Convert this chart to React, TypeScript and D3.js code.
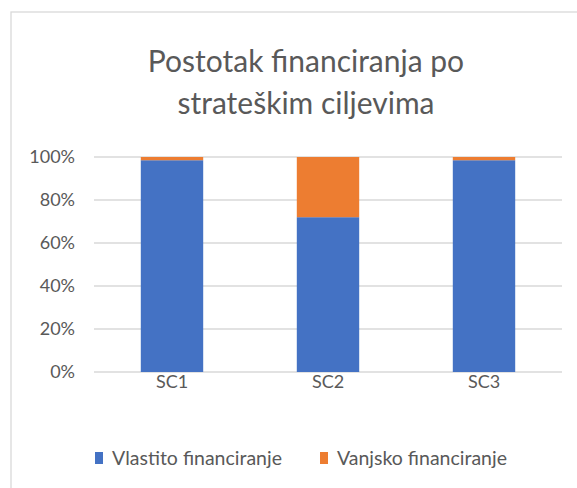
import React from "react";
import * as d3 from "d3";

const categories = ["SC1", "SC2", "SC3"];
const seriesNames = ["Vlastito financiranje", "Vanjsko financiranje"];
const vlastito = [98.5, 72, 98.5];
const vanjsko = [1.5, 28, 1.5];
const yTicks = [0, 20, 40, 60, 80, 100];
const colors = ["#4472C4", "#ED7D31"];
const titleLines = ["Postotak financiranja po", "strateškim ciljevima"];

const W = 577;
const H = 488;
const FONT = "Lato, 'Open Sans', sans-serif";
const TXT = "#595959";

export default function App() {
  const x = d3.scaleBand<string>().domain(categories).range([94, 562]).paddingInner(0.6).paddingOuter(0.3);
  const y = d3.scaleLinear().domain([0, 100]).range([372, 157]);
  const rows = categories.map((c, i) => ({ cat: c, v0: vlastito[i], v1: vanjsko[i] }));
  const stack = d3.stack<any>().keys(["v0", "v1"])(rows);
  const fmt = (v: number) => `${v}%`;

  return (
    <svg width={W} height={H} style={{ position: "absolute", left: 0, top: 0, background: "#fff" }}>
      <rect x={11} y={12} width={W} height={H} fill="#fff" stroke="#d9d9d9" strokeWidth={1.3} />
      {titleLines.map((t, i) => (
        <text key={i} x={306} y={72 + i * 42} textAnchor="middle" fontFamily={FONT} fontSize={30} fill={TXT}>
          {t}
        </text>
      ))}
      {yTicks.map((t) => (
        <g key={t}>
          <line x1={94} x2={562} y1={y(t)} y2={y(t)} stroke="#d9d9d9" strokeWidth={1.5} />
          <text x={75} y={y(t)} dy="0.35em" textAnchor="end" fontFamily={FONT} fontSize={18} fill={TXT}>
            {fmt(t)}
          </text>
        </g>
      ))}
      {stack.map((s, si) => (
        <g key={si} fill={colors[si]}>
          {s.map((d: any, i: number) => (
            <rect key={i} x={x(categories[i])} width={x.bandwidth()} y={y(d[1])} height={y(d[0]) - y(d[1])} />
          ))}
        </g>
      ))}
      {categories.map((c) => (
        <text key={c} x={(x(c) as number) + x.bandwidth() / 2} y={388} textAnchor="middle" fontFamily={FONT} fontSize={18} fill={TXT}>
          {c}
        </text>
      ))}
      {seriesNames.map((n, i) => {
        const lx = [95, 320][i];
        return (
          <g key={n}>
            <rect x={lx} y={452} width={8} height={12} fill={colors[i]} />
            <text x={lx + 17} y={458} dy="0.35em" fontFamily={FONT} fontSize={19.5} fill={TXT}>
              {n}
            </text>
          </g>
        );
      })}
    </svg>
  );
}
